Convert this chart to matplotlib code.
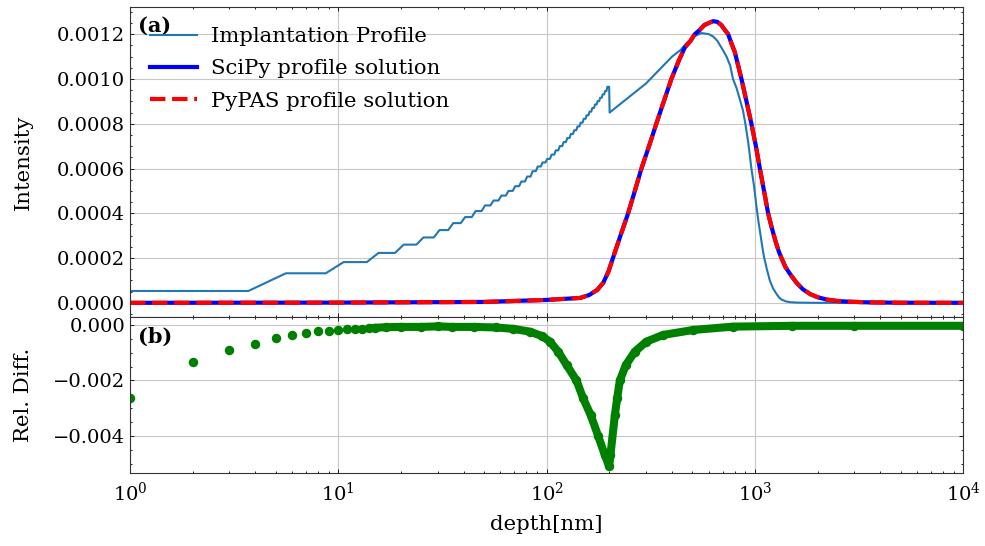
import numpy as np
import matplotlib
matplotlib.use("Agg")
import matplotlib.pyplot as plt
from matplotlib.ticker import AutoMinorLocator, LogLocator, NullFormatter

# ---------------- data ----------------
# Implantation profile: value of each 5 nm layer between 0 and 200 nm
impl_layer_nm = 5
impl_layer_values = [
    0.000053, 0.000132, 0.000182, 0.000223, 0.000260, 0.000292, 0.000325,
    0.000356, 0.000383, 0.000410, 0.000435, 0.000457, 0.000479, 0.000500,
    0.000521, 0.000542, 0.000564, 0.000588, 0.000609, 0.000627, 0.000643,
    0.000662, 0.000681, 0.000700, 0.000718, 0.000736, 0.000754, 0.000771,
    0.000788, 0.000805, 0.000822, 0.000838, 0.000854, 0.000870, 0.000886,
    0.000901, 0.000916, 0.000931, 0.000946, 0.000965,
]
# Implantation profile beyond the 200 nm interface
impl_tail_depth = [200.5, 300, 400, 440, 470, 510, 553, 600, 629, 660, 700,
                   730, 760, 784, 815, 845, 875, 899, 930, 961, 990, 1016,
                   1040, 1060, 1080, 1102, 1140, 1178, 1220, 1268, 1310, 1340,
                   1400, 1469, 1600, 2000, 10000]
impl_tail_value = [0.00085, 0.00098, 0.00110, 0.00113, 0.00116, 0.00119,
                   0.001205, 0.00120, 0.00119, 0.00117, 0.00113, 0.00110,
                   0.00106, 0.00100, 0.00096, 0.00091, 0.00086, 0.00080,
                   0.00071, 0.00060, 0.00052, 0.00043, 0.00036, 0.00031,
                   0.00026, 0.00021, 0.00015, 0.00010, 0.000065, 0.00004,
                   0.000022, 0.000015, 0.000007, 0.000003, 0.000001, 0.0, 0.0]

# Profile solution (SciPy and PyPAS give the same curve)
sol_depth = [1, 10, 50, 100, 145, 160, 175, 187, 198, 208, 226, 246, 265, 285,
             310, 336, 365, 397, 430, 460, 490, 514, 545, 570, 600, 629, 660,
             690, 715, 743, 770, 800, 830, 861, 910, 961, 1010, 1055, 1105,
             1156, 1200, 1250, 1300, 1340, 1400, 1470, 1582, 1700, 1850, 2000,
             2200, 2500, 2850, 3500, 5000, 10000]
sol_value = [0.0, 0.000001, 0.000004, 0.000013, 0.000022, 0.000035, 0.000058,
             0.00009, 0.00014, 0.0002, 0.00030, 0.0004, 0.0005, 0.0006, 0.0007,
             0.0008, 0.0009, 0.0010, 0.00108, 0.00114, 0.00117, 0.0012,
             0.00122, 0.00124, 0.00125, 0.001258, 0.001255, 0.00124, 0.00122,
             0.0012, 0.00116, 0.00112, 0.00106, 0.0010, 0.00090, 0.0008,
             0.00070, 0.0006, 0.00050, 0.0004, 0.00034, 0.00028, 0.00023,
             0.0002, 0.00016, 0.00013, 0.00009, 0.00006, 0.000038, 0.000025,
             0.000015, 0.000008, 0.000005, 0.000002, 0.0000005, 0.0]

# Relative difference between the two solutions
diff_depth = [1, 2, 3, 4, 5, 6, 7, 8, 9, 10, 11, 12, 13, 14, 15, 17, 20, 25,
              30, 35, 45, 57, 69, 83, 95, 103.6, 113.5, 124.6, 139, 149.6,
              162.5, 176.7, 190, 199.5, 202.4, 212.5, 218, 224.5, 240, 265,
              301, 362, 505, 785, 1500, 3000, 10000]
diff_value = [-0.00262, -0.00135, -0.00090, -0.000685, -0.00046, -0.00035,
              -0.00028, -0.00022, -0.00021, -0.00018, -0.00015, -0.00014,
              -0.00013, -0.00012, -0.00010, -0.00008, -0.00007, -0.00007,
              -0.00005, -0.00007, -0.00007, -0.00009, -0.00014, -0.00024,
              -0.00040, -0.00060, -0.00096, -0.00144, -0.00200, -0.00264,
              -0.00324, -0.00400, -0.00468, -0.00510, -0.00468, -0.00324,
              -0.00264, -0.00200, -0.00144, -0.00096, -0.00060, -0.00036,
              -0.00018, -0.00006, -0.00003, -0.00003, -0.00003]

# ---------------- style ----------------
plt.rcParams.update({
    "font.family": "serif",
    "font.serif": ["DejaVu Serif"],
    "mathtext.fontset": "dejavuserif",
    "font.size": 14,
    "axes.labelsize": 15.3,
    "xtick.direction": "in",
    "ytick.direction": "in",
    "xtick.top": True,
    "ytick.right": True,
    "xtick.major.size": 3,
    "ytick.major.size": 3,
    "xtick.minor.size": 1.5,
    "ytick.minor.size": 1.5,
    "xtick.minor.visible": True,
    "ytick.minor.visible": True,
    "xtick.major.width": 0.6,
    "ytick.major.width": 0.6,
    "xtick.minor.width": 0.6,
    "ytick.minor.width": 0.6,
    "xtick.major.pad": 6,
    "axes.linewidth": 0.8,
    "axes.edgecolor": "#333333",
    "grid.color": "#c8c8c8",
    "grid.linewidth": 0.8,
})

fig = plt.figure(figsize=(9.85, 5.46), dpi=100)
gs = fig.add_gridspec(2, 1, height_ratios=[310, 156], hspace=0,
                      left=0.132, right=0.978, top=0.987, bottom=0.134)
ax1 = fig.add_subplot(gs[0])
ax2 = fig.add_subplot(gs[1], sharex=ax1)

# staircase of the implantation profile
impl_x, impl_y = [], []
for k, v in enumerate(impl_layer_values):
    lo = max(1.0, k * impl_layer_nm + 0.6)
    hi = k * impl_layer_nm + 3.7
    if k == len(impl_layer_values) - 1:
        hi = k * impl_layer_nm + 4.5
    impl_x += [lo, hi]
    impl_y += [v, v]
impl_x += impl_tail_depth
impl_y += impl_tail_value

ax1.plot(impl_x, impl_y, color="#1f77b4", lw=1.5, label="Implantation Profile")
ax1.plot(sol_depth, sol_value, color="blue", lw=3, label="SciPy profile solution")
ax1.plot(sol_depth, sol_value, color="red", lw=3, ls="--",
         label="PyPAS profile solution")

ax1.set_xscale("log")
ax1.set_xlim(1, 1e4)
ax1.set_ylabel("Intensity")
ax1.grid(True, which="major")
ax1.legend(loc="upper left", frameon=False, fontsize=15.3, labelspacing=0.62,
           handlelength=2.2, handletextpad=0.65, borderaxespad=0.55)
ax1.text(0.01, 0.94, "(a)", transform=ax1.transAxes, fontweight="bold",
         va="center", ha="left", fontsize=15)
ax1.tick_params(labelbottom=False)
ax1.yaxis.set_minor_locator(AutoMinorLocator())

# relative difference
dd = np.asarray(diff_depth)
dv = np.asarray(diff_value)
dense = dd >= 14
ax2.plot(dd[dense], dv[dense], color="green", lw=5.8, solid_capstyle="round",
         solid_joinstyle="round")
ax2.plot(dd, dv, "o", color="green", ms=5.8)
ax2.set_ylim(-0.00533, 0.00029)
ax2.set_yticks([0.0, -0.002, -0.004])
ax2.yaxis.set_minor_locator(AutoMinorLocator())
ax2.set_ylabel("Rel. Diff.")
ax2.set_xlabel("depth[nm]")
ax2.grid(True, which="major")
ax2.text(0.01, 0.87, "(b)", transform=ax2.transAxes, fontweight="bold",
         va="center", ha="left", fontsize=15)

for ax in (ax1, ax2):
    ax.xaxis.set_major_locator(LogLocator(base=10, numticks=10))
    ax.xaxis.set_minor_locator(LogLocator(base=10, subs=np.arange(2, 10), numticks=20))
    ax.xaxis.set_minor_formatter(NullFormatter())

ax1.yaxis.set_label_coords(-0.116, 0.5)
ax2.yaxis.set_label_coords(-0.116, 0.5)
ax2.xaxis.set_label_coords(0.5, -0.27)

fig.savefig("out.png", dpi=100)
